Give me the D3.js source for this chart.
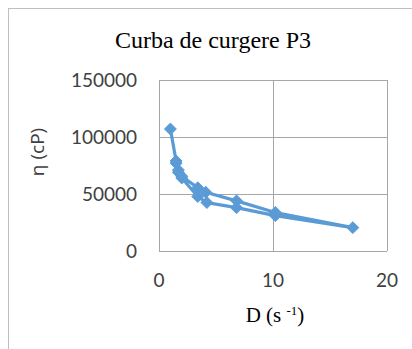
<!DOCTYPE html>
<html><head><meta charset="utf-8">
<script src="https://cdn.jsdelivr.net/npm/d3@7"></script>
<style>body{margin:0;background:#fff}svg{display:block}</style>
</head><body>
<script>
const shearRate = [1.0, 1.5, 1.7, 2.0, 3.4, 4.1, 6.8, 10.2, 17.0, 10.2, 6.8, 4.2, 3.4, 2.0, 1.7, 1.5];
const viscosity = [107000, 79000, 71000, 65500, 55500, 51500, 44000, 33800, 20500, 31000, 38000, 42500, 47800, 64000, 69000, 77000];
const xTicks = [0, 10, 20];
const yTicks = [0, 50000, 100000, 150000];

const W = 412, H = 349;
const svg = d3.select("body").append("svg").attr("width", W).attr("height", H);
// chart frame
svg.append("rect").attr("x", 8.5).attr("y", 8.5).attr("width", W + 10).attr("height", H + 10)
  .attr("fill", "#fff").attr("stroke", "#bfbfbf").attr("stroke-width", 1);

const x = d3.scaleLinear().domain([0, 20]).range([159, 387]);
const y = d3.scaleLinear().domain([0, 150000]).range([251, 80]);

const grid = "#a6a6a6";
svg.append("g").selectAll("line").data(yTicks).join("line")
  .attr("x1", x(0)).attr("x2", x(20)).attr("y1", d => y(d) + 0.5).attr("y2", d => y(d) + 0.5)
  .attr("stroke", grid).attr("stroke-width", 1);
svg.append("g").selectAll("line").data(xTicks).join("line")
  .attr("x1", d => x(d) + 0.5).attr("x2", d => x(d) + 0.5).attr("y1", y(0)).attr("y2", y(150000))
  .attr("stroke", grid).attr("stroke-width", 1);

const tickFont = "Lato, 'Open Sans', sans-serif";
svg.append("g").selectAll("text").data(yTicks).join("text")
  .attr("x", 137).attr("y", d => y(d)).attr("dy", "0.35em").attr("text-anchor", "end")
  .attr("font-family", tickFont).attr("font-size", 19).attr("fill", "#404040").text(d => d);
svg.append("g").selectAll("text").data(xTicks).join("text")
  .attr("x", d => x(d)).attr("y", 287).attr("text-anchor", "middle")
  .attr("font-family", tickFont).attr("font-size", 19).attr("fill", "#404040").text(d => d);

// title
svg.append("text").attr("x", 213).attr("y", 48).attr("text-anchor", "middle")
  .attr("font-family", "'Liberation Serif', 'Times New Roman', serif").attr("font-size", 24)
  .attr("fill", "#000").text("Curba de curgere P3");

// x title
const xt = svg.append("text").attr("x", 275).attr("y", 322).attr("text-anchor", "middle")
  .attr("font-family", "'Liberation Serif', 'Times New Roman', serif").attr("font-size", 21).attr("fill", "#000");
xt.append("tspan").text("D (s ");
xt.append("tspan").attr("font-size", 13).attr("dy", -7).text("-1");
xt.append("tspan").attr("dy", 7).text(")");

// y title
svg.append("text").attr("transform", "translate(44,152) rotate(-90)").attr("text-anchor", "middle")
  .attr("font-family", "'Open Sans', 'DejaVu Sans', sans-serif").attr("font-size", 19).attr("fill", "#404040")
  .text("η (cP)");

const pts = shearRate.map((d, i) => [d, viscosity[i]]);
const color = "#5b9bd5";
svg.append("path").datum(pts)
  .attr("d", d3.line().x(d => x(d[0])).y(d => y(d[1])))
  .attr("fill", "none").attr("stroke", color).attr("stroke-width", 3.2).attr("stroke-linejoin", "round");
svg.append("g").selectAll("path").data(pts).join("path")
  .attr("transform", d => `translate(${x(d[0])},${y(d[1])})`)
  .attr("d", d3.symbol(d3.symbolDiamond2, 90)())
  .attr("fill", color).attr("stroke", color).attr("stroke-width", 1);
</script>
</body></html>
